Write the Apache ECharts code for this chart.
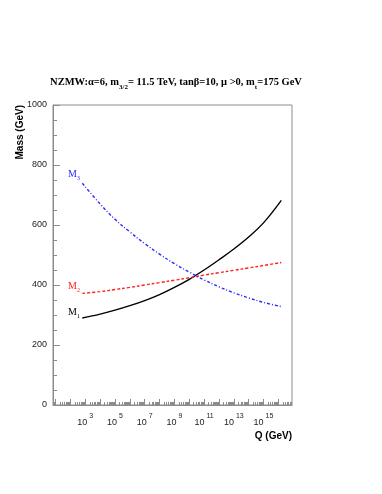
<!DOCTYPE html>
<html>
<head>
<meta charset="utf-8">
<script src="https://cdn.jsdelivr.net/npm/echarts@6/dist/echarts.min.js"></script>
<style>
  html, body { margin: 0; padding: 0; background: #fff; }
  #main { width: 382px; height: 494px; }
</style>
</head>
<body>
<div id="main"></div>
<script>
// log10(Q / GeV) sample points along the running
const logQ = [2.8, 4, 5, 6, 7, 8, 9, 10, 11, 12, 13, 14, 15, 16.2]
// gaugino masses in GeV
const m1 = [290, 303, 316, 331, 348, 368, 392, 419, 450, 484, 520, 560, 607, 682]
const m2 = [372, 378, 385, 392, 400, 408, 416, 424, 433, 441, 449, 457, 465, 475]
const m3 = [739, 670, 619, 577, 538, 503, 471, 443, 417, 394, 374, 357, 342, 328]
// labelled exponents on the Q axis
const xLabelExp = [3, 5, 7, 9, 11, 13, 15]

const xMin = 0.825
const xMax = 16.92

const majorTicks = []
const minorTicks = []
for (let n = 0; n <= 17; n++) {
  if (n >= xMin && n <= xMax) majorTicks.push(n)
  for (let k = 2; k <= 9; k++) {
    const v = n + Math.log10(k)
    if (v > xMin && v < xMax) minorTicks.push(v)
  }
}
const yMinorTicks = []
for (let v = 50; v < 1000; v += 50) if (v % 200 !== 0) yMinorTicks.push(v)

const sans = 'Liberation Sans'
const serif = 'Liberation Serif'
const frame = '#8c8c8c'

const chart = echarts.init(document.getElementById('main'))

const toPairs = (ys) => logQ.map((x, i) => [x, ys[i]])

// "M" with a small subscript index
const mLabel = (x, y, idx, color) => ({
  type: 'text', x: x, y: y,
  style: {
    text: '{m|M}{i|' + idx + '}', verticalAlign: 'middle',
    rich: {
      m: { fontFamily: serif, fontSize: 10, fill: color, lineHeight: 12, verticalAlign: 'top' },
      i: { fontFamily: serif, fontSize: 6, fill: color, lineHeight: 7, verticalAlign: 'bottom' }
    }
  }
})

chart.setOption({
  animation: false,
  grid: {
    left: 53, top: 105, width: 239, height: 300,
    show: true, borderColor: frame, borderWidth: 1, backgroundColor: 'transparent'
  },
  xAxis: [{
    type: 'value', min: xMin, max: xMax,
    axisLine: { show: true, lineStyle: { color: frame, width: 1 } },
    splitLine: { show: false },
    axisTick: { show: true, inside: true, length: 6, customValues: majorTicks, lineStyle: { color: frame } },
    axisLabel: {
      customValues: xLabelExp,
      margin: 8,
      formatter: (v) => '{b|10}{s|' + v + '}',
      rich: {
        b: { fontFamily: sans, fontSize: 9, color: '#222', lineHeight: 14, verticalAlign: 'bottom' },
        s: { fontFamily: sans, fontSize: 7, color: '#222', lineHeight: 8, verticalAlign: 'top', padding: [0, 0, 0, 2] }
      }
    }
  }, {
    type: 'value', min: xMin, max: xMax, position: 'bottom',
    axisLine: { show: false },
    splitLine: { show: false },
    axisLabel: { show: false },
    axisTick: { show: true, inside: true, length: 3, customValues: minorTicks, lineStyle: { color: frame } }
  }],
  yAxis: [{
    type: 'value', min: 0, max: 1000, interval: 200,
    axisLine: { show: true, lineStyle: { color: frame, width: 1 } },
    splitLine: { show: false },
    axisTick: { show: true, inside: true, length: 7, lineStyle: { color: frame } },
    axisLabel: { fontFamily: sans, fontSize: 9, color: '#222', margin: 6, formatter: (v) => String(v) }
  }, {
    type: 'value', min: 0, max: 1000, position: 'left',
    axisLine: { show: false },
    splitLine: { show: false },
    axisLabel: { show: false },
    axisTick: { show: true, inside: true, length: 4, customValues: yMinorTicks, lineStyle: { color: frame } }
  }],
  series: [{
    name: 'M1', type: 'line', smooth: 0.4, symbol: 'none', data: toPairs(m1),
    lineStyle: { color: '#000', width: 1.4, type: 'solid' }
  }, {
    name: 'M2', type: 'line', smooth: 0.4, symbol: 'none', data: toPairs(m2),
    lineStyle: { color: '#ff2020', width: 1.4, type: [3, 2] }
  }, {
    name: 'M3', type: 'line', smooth: 0.4, symbol: 'none', data: toPairs(m3),
    lineStyle: { color: '#2a2aff', width: 1.4, type: [3, 2, 1, 2] }
  }],
  graphic: [{
    type: 'text', x: 176, y: 84,
    style: {
      text: '{t|NZMW:α=6, m}{u|3/2}{t|= 11.5 TeV, tanβ=10, μ >0, m}{u|t}{t|=175 GeV}',
      align: 'center', verticalAlign: 'middle',
      rich: {
        t: { fontFamily: serif, fontWeight: 'bold', fontSize: 10.5, fill: '#000', lineHeight: 14, verticalAlign: 'top' },
        u: { fontFamily: serif, fontWeight: 'bold', fontSize: 7, fill: '#000', lineHeight: 8, verticalAlign: 'bottom' }
      }
    }
  }, {
    type: 'text', x: 20, y: 105, rotation: Math.PI / 2,
    style: { text: 'Mass (GeV)', fontFamily: sans, fontWeight: 'bold', fontSize: 10, fill: '#000', align: 'right', verticalAlign: 'middle' }
  }, {
    type: 'text', x: 292, y: 436,
    style: { text: 'Q (GeV)', fontFamily: sans, fontWeight: 'bold', fontSize: 10, fill: '#000', align: 'right', verticalAlign: 'middle' }
  },
  mLabel(68, 175, 3, '#2a2aff'),
  mLabel(68, 287, 2, '#ff2020'),
  mLabel(68, 313, 1, '#000')]
})
</script>
</body>
</html>
